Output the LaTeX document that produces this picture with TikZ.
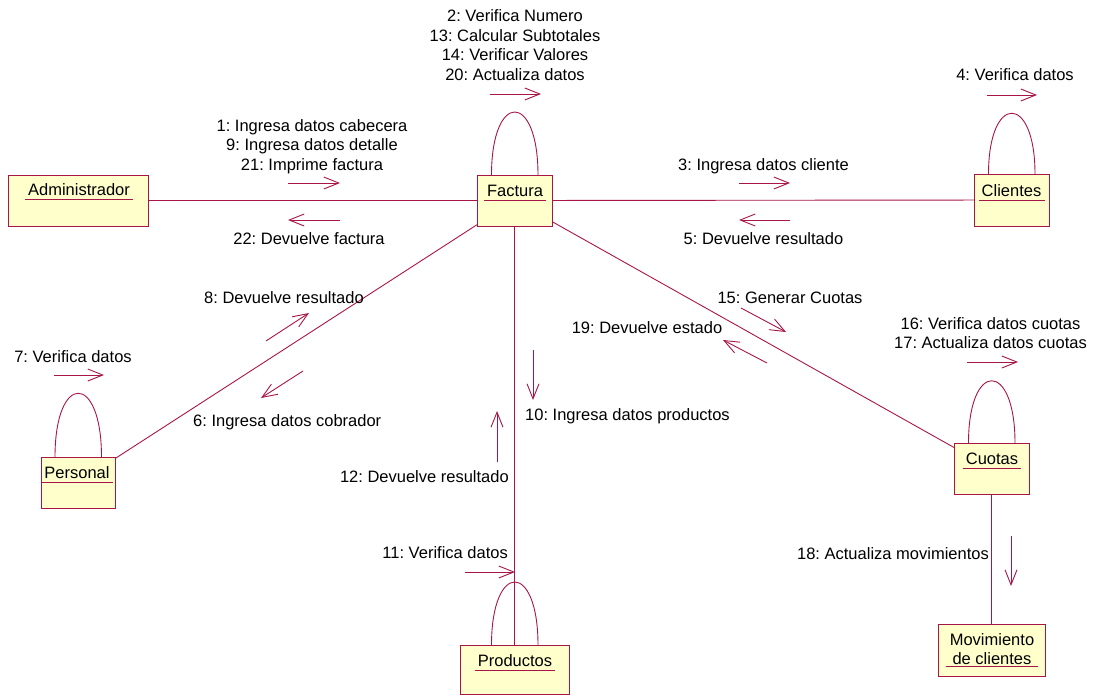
\documentclass[tikz,border=0pt]{standalone}
\usepackage{fontspec}
\setmainfont{Liberation Sans}
\usetikzlibrary{arrows.meta,calc}
\frenchspacing

\definecolor{umlred}{RGB}{168,22,72}
\definecolor{umlfill}{RGB}{255,255,204}

% self-message loop on top of an object box: #1 node, #2 control height
\newcommand\objloop[2]{%
  \draw[conn] ($(#1.north)+(-23,0)$) .. controls ($(#1.north)+(-23,-#2)$)
    and ($(#1.north)+(23.5,-#2)$) .. ($(#1.north)+(23.5,0)$);}

\begin{document}
\begin{tikzpicture}[x=1pt,y=-1pt,
  obj/.style={draw=umlred,fill=umlfill,line width=0.9pt,inner sep=0pt,outer sep=0pt},
  objname/.style={font=\frenchspacing\fontsize{16.5}{19.5}\selectfont,inner sep=0pt,align=center},
  uline/.style={draw=umlred,line width=1.1pt},
  conn/.style={draw=umlred,line width=0.9pt},
  msg/.style={draw=umlred,line width=0.9pt,-{Straight Barb[length=15pt,width=12pt]}},
  txt/.style={font=\frenchspacing\fontsize{16.5}{19.5}\selectfont,inner sep=0pt,align=center}]

\useasboundingbox (0,0) rectangle (1106,696);

% object boxes
\node[obj,minimum width=140pt,minimum height=51pt] (adm)  at (78,200.5) {};
\node[obj,minimum width=75pt,minimum height=51pt]  (fact) at (514.5,200.5) {};
\node[obj,minimum width=75pt,minimum height=52pt]  (cli)  at (1011.5,200) {};
\node[obj,minimum width=74pt,minimum height=51pt]  (pers) at (78,482.5) {};
\node[obj,minimum width=109pt,minimum height=49pt] (prod) at (514.5,669.5) {};
\node[obj,minimum width=75pt,minimum height=51pt]  (cuo)  at (991.5,468.5) {};
\node[obj,minimum width=107pt,minimum height=52pt] (mov)  at (991.5,650) {};

% object names, underlined
\node[objname,anchor=base] (admN)  at (79,195)    {Administrador};
\node[objname,anchor=base] (factN) at (515,196)   {Factura};
\node[objname,anchor=base] (cliN)  at (1011.5,196){Clientes};
\node[objname,anchor=base] (persN) at (77,478)    {Personal};
\node[objname,anchor=base] (prodN) at (515,666)   {Productos};
\node[objname,anchor=base] (cuoN)  at (992,464)   {Cuotas};
\node[objname,anchor=north] (movN) at (992,633)   {Movimiento\\de clientes};

\foreach \n in {admN,factN,cliN,persN,prodN,cuoN}
  \draw[uline] ([xshift=-3pt,yshift=-4.5pt]\n.base west) -- ([xshift=3pt,yshift=-4.5pt]\n.base east);
\draw[uline] ([xshift=-4pt,yshift=-1.5pt]movN.south west) -- ([xshift=4pt,yshift=-1.5pt]movN.south east);

% links
\draw[conn] (adm) -- (fact);
\draw[conn] (fact) -- (cli);
\draw[conn] (fact) -- (pers);
\draw[conn] (fact) -- (cuo);
\draw[conn] (fact.south) -- (prod.north);
\draw[conn] (cuo) -- (mov);

% self links
\objloop{fact}{84}
\objloop{cli}{81}
\objloop{pers}{85}
\objloop{prod}{84}
\objloop{cuo}{83}

% messages Factura (self)
\node[txt,anchor=north] (tFact) at (515,9.5)
  {2: Verifica Numero\\13: Calcular Subtotales\\14: Verificar Valores\\20: Actualiza datos};
\draw[msg] (490,94) coordinate (mFa) -- (541,94) coordinate (mFb);

% messages Clientes (self)
\node[txt,anchor=base] (tCli) at (1015,80) {4: Verifica datos};
\draw[msg] (987,95) coordinate (mCa) -- (1037,95) coordinate (mCb);

% Administrador <-> Factura
\node[txt,anchor=north] (tAdm) at (312,119)
  {1: Ingresa datos cabecera\\9: Ingresa datos detalle\\21: Imprime factura};
\draw[msg] (288,183) coordinate (mA1) -- (340,183) coordinate (mA2);
\node[txt,anchor=base] (tAdmB) at (309,244) {22: Devuelve factura};
\draw[msg] (340,220) coordinate (mA3) -- (288,220) coordinate (mA4);

% Factura <-> Clientes
\node[txt,anchor=base] (tCl1) at (763.5,170) {3: Ingresa datos cliente};
\draw[msg] (739,183) coordinate (mL1) -- (790,183) coordinate (mL2);
\node[txt,anchor=base] (tCl2) at (763.5,244) {5: Devuelve resultado};
\draw[msg] (790,220) coordinate (mL3) -- (739,220) coordinate (mL4);

% Factura <-> Personal
\node[txt,anchor=base] (tP1) at (284,303) {8: Devuelve resultado};
\draw[msg] (266,341) coordinate (mP1) -- (309,313) coordinate (mP2);
\node[txt,anchor=base west] (tP2) at (193,426) {6: Ingresa datos cobrador};
\draw[msg] (303,371) coordinate (mP3) -- (261,398) coordinate (mP4);

% Personal (self)
\node[txt,anchor=base] (tP3) at (73,362) {7: Verifica datos};
\draw[msg] (54,375) coordinate (mP5) -- (104,375) coordinate (mP6);

% Factura <-> Cuotas
\node[txt,anchor=base] (tQ1) at (790,303) {15: Generar Cuotas};
\draw[msg] (741,308) coordinate (mQ1) -- (786,332) coordinate (mQ2);
\node[txt,anchor=base] (tQ2) at (647,333) {19: Devuelve estado};
\draw[msg] (767,363) coordinate (mQ3) -- (723,340) coordinate (mQ4);

% Cuotas (self)
\node[txt,anchor=north] (tQ3) at (990.5,317) {16: Verifica datos cuotas\\17: Actualiza datos cuotas};
\draw[msg] (967,362) coordinate (mQ5) -- (1018,362) coordinate (mQ6);

% Factura <-> Productos
\node[txt,anchor=base west] (tR1) at (525,420) {10: Ingresa datos productos};
\draw[msg] (533,350) coordinate (mR1) -- (533,400) coordinate (mR2);
\node[txt,anchor=base east] (tR2) at (509,482) {12: Devuelve resultado};
\draw[msg] (497,462) coordinate (mR3) -- (497,411) coordinate (mR4);

% Productos (self)
\node[txt,anchor=base east] (tR3) at (508,558) {11: Verifica datos};
\draw[msg] (465,572) coordinate (mR5) -- (515,572) coordinate (mR6);

% Cuotas -> Movimiento de clientes
\node[txt,anchor=base east] (tM) at (989,559) {18: Actualiza movimientos};
\draw[msg] (1011,536) coordinate (mM1) -- (1011,586) coordinate (mM2);

\end{tikzpicture}
\end{document}
